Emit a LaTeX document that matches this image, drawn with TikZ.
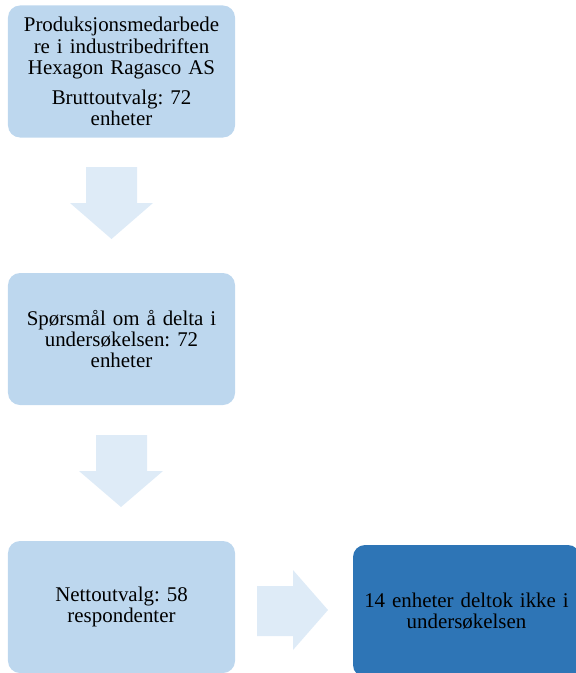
\documentclass[tikz,border=0pt]{standalone}
\usepackage{fontspec}
\setmainfont{Liberation Serif}
\frenchspacing
\definecolor{boxlight}{HTML}{BDD7EE}
\definecolor{boxdark}{HTML}{2E75B6}
\definecolor{arrowfill}{HTML}{DEEBF7}
\begin{document}
\begin{tikzpicture}[x=1bp,y=-1bp,
  stepbox/.style={fill=boxlight,draw=none,rounded corners=12bp,minimum width=227bp,minimum height=132bp,
    align=center,text width=215bp,font=\fontsize{21}{21.5}\selectfont\frenchspacing,inner sep=0pt},
  darkbox/.style={stepbox,fill=boxdark},
  blockarrow/.style={fill=arrowfill,draw=none}]
\useasboundingbox (0,0) rectangle (576,673);
\node[stepbox] (b1) at (121.5,71.5) {Produksjonsmedarbede\\re i industribedriften\\Hexagon Ragasco AS\\[8bp]Bruttoutvalg: 72\\enheter};
\node[stepbox] (b2) at (121.5,339) {Spørsmål om å delta i\\undersøkelsen: 72\\enheter};
\node[stepbox] (b3) at (121.5,607) {Nettoutvalg: 58\\respondenter};
\node[darkbox] (b4) at (466.5,611) {14 enheter deltok ikke i\\undersøkelsen};
% block arrows
\fill[blockarrow] (86,167) -- (137,167) -- (137,203) -- (153,203) -- (111.5,239) -- (70,203) -- (86,203) -- cycle;
\fill[blockarrow] (96,435) -- (147,435) -- (147,471) -- (163,471) -- (121,507) -- (79,471) -- (96,471) -- cycle;
\fill[blockarrow] (257,586) -- (293,586) -- (293,570) -- (328,610) -- (293,650) -- (293,636) -- (257,636) -- cycle;
\end{tikzpicture}
\end{document}
